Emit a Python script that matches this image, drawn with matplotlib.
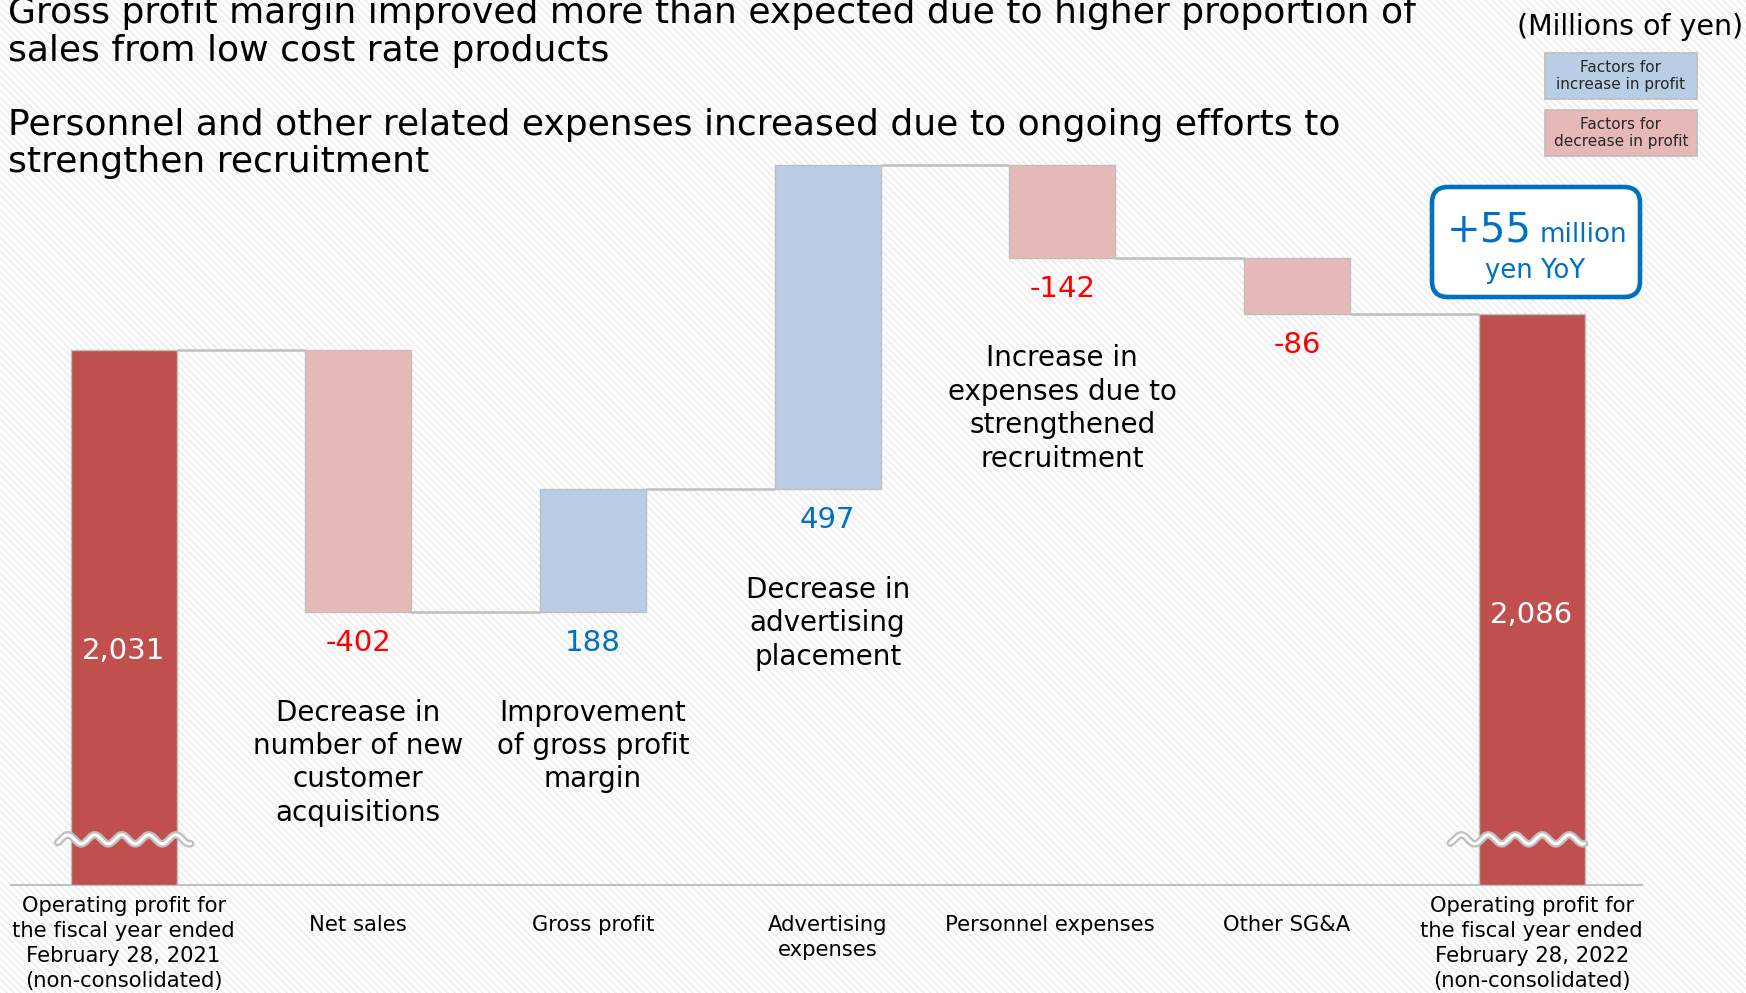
import numpy as np
import matplotlib
matplotlib.use("Agg")
import matplotlib.pyplot as plt
import matplotlib.transforms as mtransforms
from matplotlib.patches import Rectangle, FancyBboxPatch

# operating profit bridge, millions of yen
categories = ["Operating profit for\nthe fiscal year ended\nFebruary 28, 2021\n(non-consolidated)",
              "Net sales", "Gross profit", "Advertising\nexpenses",
              "Personnel expenses", "Other SG&A",
              "Operating profit for\nthe fiscal year ended\nFebruary 28, 2022\n(non-consolidated)"]
start_value = 2031
changes = [-402, 188, 497, -142, -86]
end_value = 2086
notes = ["Decrease in\nnumber of new\ncustomer\nacquisitions",
         "Improvement\nof gross profit\nmargin",
         "Decrease in\nadvertising\nplacement",
         "Increase in\nexpenses due to\nstrengthened\nrecruitment",
         ""]
titles = ["Gross profit margin improved more than expected due to higher proportion of",
          "sales from low cost rate products",
          "Personnel and other related expenses increased due to ongoing efforts to",
          "strengthen recruitment"]
yoy_text = "+55"

W, H = 1746, 993
TOTAL = "#C0504D"
UP = "#B9CDE5"
DOWN = "#E6B9B8"
EDGE = "#BFBFBF"
BLUE = "#0070C0"
RED = "#FF0000"

plt.rcParams['font.family'] = ['DejaVu Sans']

fig = plt.figure(figsize=(W / 100, H / 100), dpi=100)
fig.patch.set_facecolor("white")

# diagonal striped backdrop
rows, cols = np.indices((H, W))
stripe = ((cols - rows) % 7) < 3
bg = np.ones((H, W, 3))
bg[stripe] = 0.945
fig.figimage(bg, xo=0, yo=0, origin="upper", zorder=-10)

px = mtransforms.IdentityTransform()


def top(y):
    return H - y


ax = fig.add_axes([11 / W, 1 - 885 / H, (1642 - 11) / W, (885 - 109) / H])
ax.patch.set_alpha(0)
ax.set_xlim(-0.48, 6.47)
ax.set_ylim(1210, 2400)
for s in ["top", "right", "left"]:
    ax.spines[s].set_visible(False)
ax.spines["bottom"].set_color(EDGE)
ax.spines["bottom"].set_linewidth(1.5)
ax.set_xticks([])
ax.set_yticks([])

width = 0.451
base = ax.get_ylim()[0]

# running level after each step
levels = [start_value]
for c in changes:
    levels.append(levels[-1] + c)

ax.bar(0, start_value - base, bottom=base, width=width, color=TOTAL,
       edgecolor=EDGE, linewidth=1, zorder=3)
ax.bar(6, end_value - base, bottom=base, width=width, color=TOTAL,
       edgecolor=EDGE, linewidth=1, zorder=3)

for i, c in enumerate(changes):
    lo = min(levels[i], levels[i + 1])
    ax.bar(i + 1, abs(c), bottom=lo, width=width, color=UP if c > 0 else DOWN,
           edgecolor=EDGE, linewidth=1, zorder=3)

# connector lines between bar edges
for i in range(6):
    ax.plot([i + width / 2, i + 1 - width / 2], [levels[i], levels[i]],
            color=EDGE, lw=1.8, zorder=2, solid_capstyle="butt")

# value labels
for x, v in [(0, start_value), (6, end_value)]:
    ax.annotate(f"{v:,}", (x, v), xytext=(0, -217), textcoords="offset points",
                ha="center", va="center", color="white", fontsize=21, zorder=5)

for i, c in enumerate(changes):
    lo = min(levels[i], levels[i + 1])
    ax.annotate(f"{c}", (i + 1, lo), xytext=(0, -22.5), textcoords="offset points",
                ha="center", va="center", color=BLUE if c > 0 else RED, fontsize=21)
    if notes[i]:
        ax.annotate(notes[i], (i + 1, lo), xytext=(0, -62.5), textcoords="offset points",
                    ha="center", va="top", color="black", fontsize=20, linespacing=1.245)

# category labels under the baseline
lab_tr = mtransforms.blended_transform_factory(ax.transData, fig.transFigure)
nudge = {4: -0.055, 5: -0.045}
for i, lab in enumerate(categories):
    y = 896 if lab.count("\n") > 1 else 915
    ax.text(i + nudge.get(i, 0), 1 - y / H, lab, transform=lab_tr, ha="center", va="top",
            fontsize=15.2, linespacing=1.31, color="black", clip_on=False)

# axis break marks
def wave(x0, x1, xpeak):
    period = 27 / 234.7
    xs = np.linspace(x0, x1, 200)
    ys = 1280 + 6.9 * np.cos(2 * np.pi * (xs - xpeak) / period)
    ax.plot(xs, ys, color=EDGE, lw=5.5, zorder=6, solid_capstyle="round")
    ax.plot(xs, ys, color="white", lw=2.2, zorder=7, solid_capstyle="round")

wave(-0.281, 0.285, -0.238)
wave(5.653, 6.225, 5.70)

# headline text
for t, yb in zip(titles, [23, 61, 135, 172]):
    fig.text(8 / W, 1 - yb / H, t, ha="left", va="baseline", fontsize=26, color="black")

fig.text(1743 / W, 1 - 35 / H, "(Millions of yen)", ha="right", va="baseline",
         fontsize=20.5, color="black")

# legend boxes
for (y0, y1), fc, txt in [((53, 99), UP, "Factors for\nincrease in profit"),
                          ((110, 156), DOWN, "Factors for\ndecrease in profit")]:
    fig.add_artist(Rectangle((1545, top(y1)), 152, y1 - y0, transform=px,
                             facecolor=fc, edgecolor=EDGE, lw=1.2))
    fig.text((1545 + 76) / W, 1 - (y0 + y1) / 2 / H, txt, ha="center", va="center",
             fontsize=11, linespacing=1.15, color="#262626")

# year-on-year callout
fig.add_artist(FancyBboxPatch((1432, top(297)), 208, 110, transform=px,
                              boxstyle="round,pad=0,rounding_size=16",
                              facecolor="white", edgecolor=BLUE, lw=3.3))
fig.text(1447 / W, 1 - 242 / H, yoy_text, ha="left", va="baseline",
         fontsize=29, color=BLUE)
fig.text(1540 / W, 1 - 242 / H, "million", ha="left", va="baseline",
         fontsize=18.8, color=BLUE)
fig.text(1535 / W, 1 - 278 / H, "yen YoY", ha="center", va="baseline",
         fontsize=18.6, color=BLUE)

fig.savefig("out.png", dpi=100)
